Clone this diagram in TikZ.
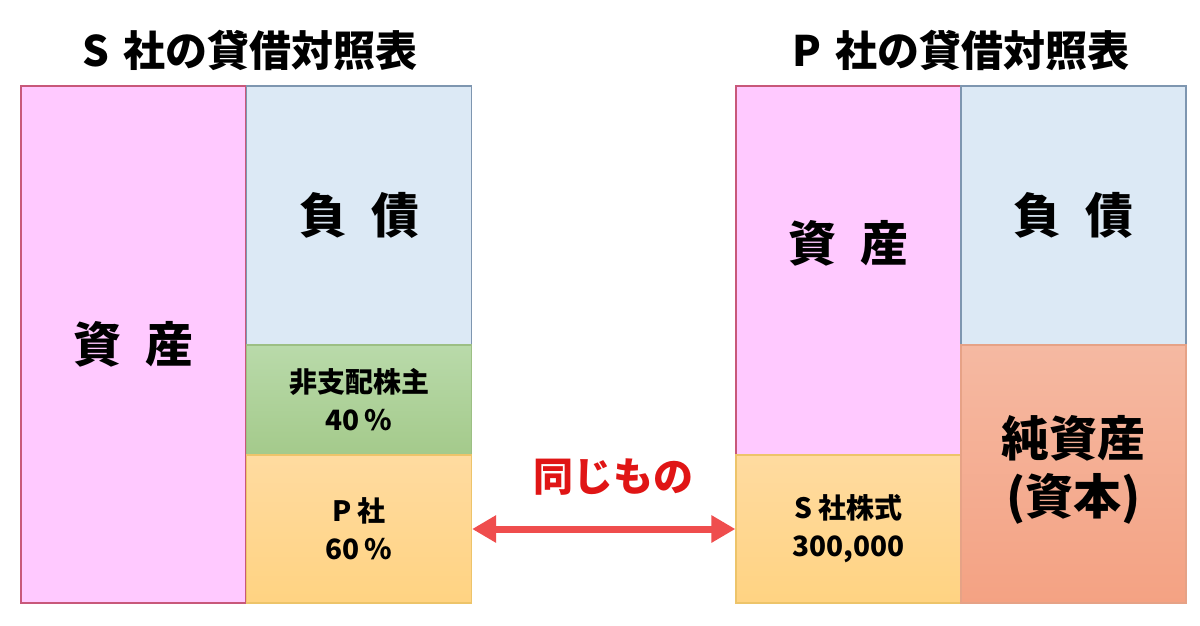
\documentclass[tikz,border=0pt]{standalone}
\usepackage{fontspec}
\setmainfont{Noto Sans CJK JP}
\usetikzlibrary{arrows.meta}
\definecolor{pinkf}{HTML}{FFC9FF}
\definecolor{pinkd}{HTML}{C8587A}
\definecolor{bluef}{HTML}{DCE9F5}
\definecolor{blued}{HTML}{7E96B0}
\definecolor{greent}{HTML}{B9DAAA}
\definecolor{greenb}{HTML}{A4CA8B}
\definecolor{greend}{HTML}{9CBF84}
\definecolor{oranget}{HTML}{FFDBA0}
\definecolor{orangeb}{HTML}{FFD382}
\definecolor{oranged}{HTML}{EDC46A}
\definecolor{salmont}{HTML}{F5B9A2}
\definecolor{salmonb}{HTML}{F4A283}
\definecolor{salmond}{HTML}{E6A286}
\definecolor{arrowred}{HTML}{EF4D4D}
\definecolor{labelred}{HTML}{E01515}
\begin{document}
\begin{tikzpicture}[x=1pt,y=-1pt,
  box/.style={rectangle,inner sep=0pt,line width=1.3pt,minimum width=225pt,align=center,font=\bfseries},
  asset/.style={box,draw=pinkd,fill=pinkf},
  liab/.style={box,draw=blued,fill=bluef},
  minority/.style={box,draw=greend,top color=greent,bottom color=greenb},
  share/.style={box,draw=oranged,top color=oranget,bottom color=orangeb},
  equity/.style={box,draw=salmond,top color=salmont,bottom color=salmonb},
  bigtxt/.style={font=\fontsize{48}{56}\selectfont\bfseries},
  midtxt/.style={font=\fontsize{48}{58}\selectfont\bfseries},
  smalltxt/.style={font=\fontsize{28}{38}\selectfont\bfseries},
  title/.style={font=\fontsize{42}{48}\selectfont\bfseries}
]
\useasboundingbox (0,0) rectangle (1200,625);
\fill[white] (0,0) rectangle (1200,625);
% titles
\node[title] (tS) at (250,50) {S\,\,社の貸借対照表};
\node[title] (tP) at (961,50) {P\,\,社の貸借対照表};
% S company
\node[asset,minimum height=517pt] (sA) at (133.5,344.5) {};
\node[liab,minimum height=259pt] (sL) at (359,215.5) {};
\node[minority,minimum height=110pt] (sM) at (359,400) {};
\node[share,minimum height=148pt] (sP) at (359,529) {};
\node[bigtxt] at (sA) {資\,\,\,産};
\node[bigtxt] at (sL) {負\,\,\,債};
\node[smalltxt,align=center] at (sM) {非支配株主\\40\,\%};
\node[smalltxt,align=center] at (sP) {P 社\\60\,\%};
% P company
\node[asset,minimum height=369pt] (pA) at (848.5,270.5) {};
\node[share,minimum height=148pt] (pS) at (848.5,529) {};
\node[liab,minimum height=259pt] (pL) at (1073.5,215.5) {};
\node[equity,minimum height=258pt] (pE) at (1073.5,474) {};
\node[bigtxt] at (848.5,243) {資\,\,\,産};
\node[bigtxt] at (pL) {負\,\,\,債};
\node[smalltxt,align=center] at (pS) {S 社株式\\300,000};
\node[midtxt,align=center] at (1073.5,470) {純資産\\(資本)};
% arrow
\draw[arrowred,line width=7pt,{Triangle[length=24pt,width=26pt]}-{Triangle[length=24pt,width=26pt]}]
  (sP.east) -- (pS.west);
\node[font=\fontsize{40}{46}\selectfont\bfseries,text=labelred] (same) at (613,477) {同じもの};
\end{tikzpicture}
\end{document}
